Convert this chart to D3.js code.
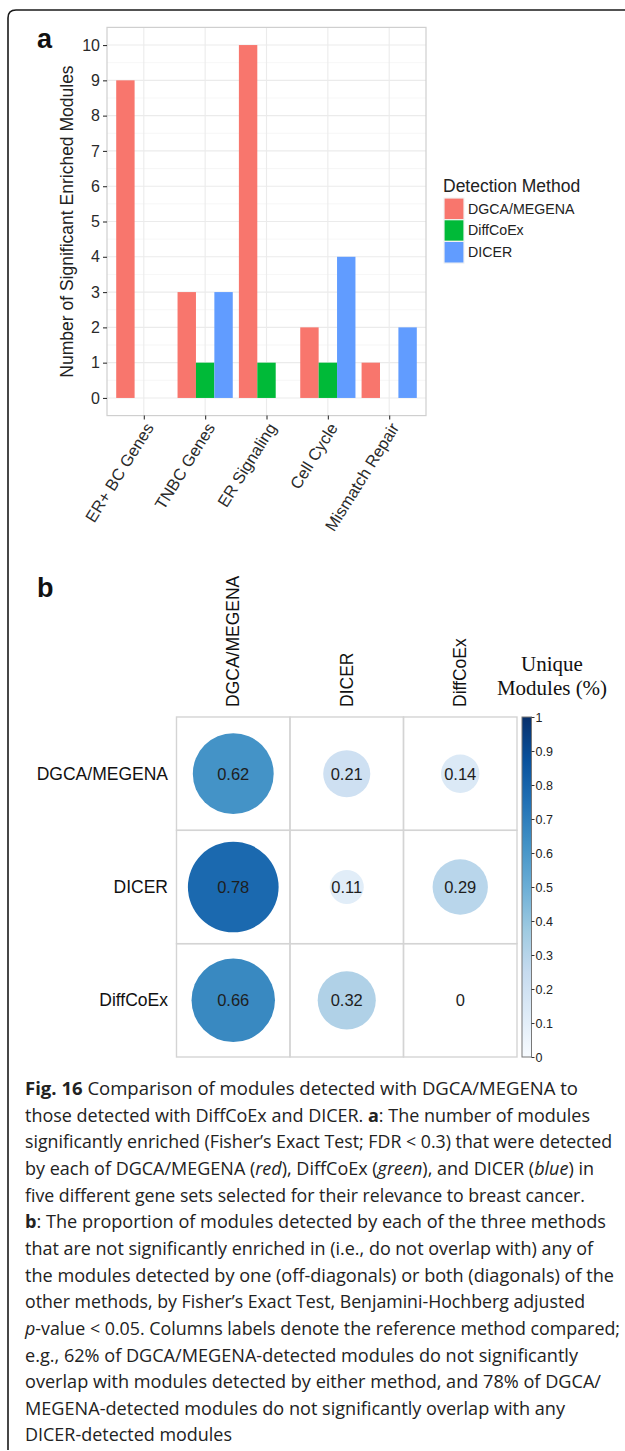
<!DOCTYPE html>
<html>
<head>
<meta charset="utf-8">
<script src="https://cdn.jsdelivr.net/npm/d3@7"></script>
<style>
  html, body { margin: 0; padding: 0; background: #fff; }
  svg { display: block; }
</style>
</head>
<body>
<svg id="fig" width="625" height="1451"></svg>
<script>
// ---- Panel a: enriched modules per gene set ----
const categories = ["ER+ BC Genes", "TNBC Genes", "ER Signaling", "Cell Cycle", "Mismatch Repair"];
const methods = ["DGCA/MEGENA", "DiffCoEx", "DICER"];
const dgcaCounts = [9, 3, 10, 2, 1];
const diffcoexCounts = [0, 1, 1, 1, 0];
const dicerCounts = [0, 3, 0, 4, 2];
const methodColors = ["#F8766D", "#00BA38", "#619CFF"];
const yTicks = [0, 1, 2, 3, 4, 5, 6, 7, 8, 9, 10];

// ---- Panel b: unique module proportions ----
const matrixRows = ["DGCA/MEGENA", "DICER", "DiffCoEx"];
const matrixCols = ["DGCA/MEGENA", "DICER", "DiffCoEx"];
const uniqueDgca = [0.62, 0.21, 0.14];
const uniqueDicer = [0.78, 0.11, 0.29];
const uniqueDiffcoex = [0.66, 0.32, 0];
const colorbarTicks = [0, 0.1, 0.2, 0.3, 0.4, 0.5, 0.6, 0.7, 0.8, 0.9, 1];
const bluesStops = ["#F7FBFF", "#DEEBF7", "#C6DBEF", "#9ECAE1", "#6BAED6", "#4292C6", "#2171B5", "#08519C", "#08306B"];

// ---- Caption ----
const captionLines = [
  [["b", "Fig. 16"], ["n", " Comparison of modules detected with DGCA/MEGENA to"]],
  [["n", "those detected with DiffCoEx and DICER. "], ["b", "a"], ["n", ": The number of modules"]],
  [["n", "significantly enriched (Fisher\u2019s Exact Test; FDR < 0.3) that were detected"]],
  [["n", "by each of DGCA/MEGENA ("], ["i", "red"], ["n", "), DiffCoEx ("], ["i", "green"], ["n", "), and DICER ("], ["i", "blue"], ["n", ") in"]],
  [["n", "five different gene sets selected for their relevance to breast cancer."]],
  [["b", "b"], ["n", ": The proportion of modules detected by each of the three methods"]],
  [["n", "that are not significantly enriched in (i.e., do not overlap with) any of"]],
  [["n", "the modules detected by one (off-diagonals) or both (diagonals) of the"]],
  [["n", "other methods, by Fisher\u2019s Exact Test, Benjamini-Hochberg adjusted"]],
  [["i", "p"], ["n", "-value < 0.05. Columns labels denote the reference method compared;"]],
  [["n", "e.g., 62% of DGCA/MEGENA-detected modules do not significantly"]],
  [["n", "overlap with modules detected by either method, and 78% of DGCA/"]],
  [["n", "MEGENA-detected modules do not significantly overlap with any"]],
  [["n", "DICER-detected modules"]]
];
const captionWidths = [553, 565, 587, 569, 560, 581, 568, 589, 560, 595, 553, 576, 540, 207];

const svg = d3.select("#fig");
const sans = "'Liberation Sans', Arial, Helvetica, sans-serif";

// Frame around the figure
svg.append("path")
  .attr("d", "M8,1450 L8,18 Q8,10 16,10 L625,10")
  .attr("fill", "none")
  .attr("stroke", "#1a1a1a")
  .attr("stroke-width", 1.6);

// ================= Panel a =================
const pa = svg.append("g");
const x = d3.scaleLinear().domain([0.4, 5.6]).range([107, 426]);
const y = d3.scaleLinear().domain([-0.5, 10.5]).range([415.6, 27.4]);
const step = x(2) - x(1);
const barW = step * 0.3;

pa.append("text").attr("x", 37).attr("y", 48)
  .attr("font-family", sans).attr("font-weight", "bold").attr("font-size", 27)
  .attr("fill", "#111").text("a");

// Grid: minor then major
const minorY = d3.range(0.5, 10.5, 1);
pa.selectAll(".minor").data(minorY).join("line")
  .attr("x1", x(0.4)).attr("x2", x(5.6))
  .attr("y1", d => y(d)).attr("y2", d => y(d))
  .attr("stroke", "#f4f4f4").attr("stroke-width", 0.8);
pa.selectAll(".majorY").data(yTicks).join("line")
  .attr("x1", x(0.4)).attr("x2", x(5.6))
  .attr("y1", d => y(d)).attr("y2", d => y(d))
  .attr("stroke", "#ebebeb").attr("stroke-width", 1.1);
pa.selectAll(".majorX").data(categories).join("line")
  .attr("x1", (d, i) => x(i + 1)).attr("x2", (d, i) => x(i + 1))
  .attr("y1", y(-0.5)).attr("y2", y(10.5))
  .attr("stroke", "#ebebeb").attr("stroke-width", 1.1);

// Bars
const series = [dgcaCounts, diffcoexCounts, dicerCounts];
const barData = [];
series.forEach((vals, m) => vals.forEach((v, i) => { if (v > 0) barData.push({ m, i, v }); }));
pa.selectAll(".bar").data(barData).join("rect")
  .attr("x", d => x(d.i + 1) - 1.5 * barW + d.m * barW)
  .attr("width", barW)
  .attr("y", d => y(d.v))
  .attr("height", d => y(0) - y(d.v))
  .attr("fill", d => methodColors[d.m]);

// Panel border
pa.append("rect")
  .attr("x", x(0.4)).attr("y", y(10.5))
  .attr("width", x(5.6) - x(0.4)).attr("height", y(-0.5) - y(10.5))
  .attr("fill", "none").attr("stroke", "#cfcfcf").attr("stroke-width", 1.2);

// Y axis
const yAxis = pa.append("g").attr("transform", `translate(${x(0.4)},0)`)
  .call(d3.axisLeft(y).tickValues(yTicks).tickSize(4).tickPadding(3).tickFormat(d3.format("d")));
yAxis.select(".domain").remove();
yAxis.selectAll("line").attr("stroke", "#333").attr("stroke-width", 1.1);
yAxis.selectAll("text").attr("font-family", sans).attr("font-size", 16).attr("fill", "#2a2a2a");

// X axis
const xAxis = pa.append("g").attr("transform", `translate(0,${y(-0.5)})`)
  .call(d3.axisBottom(x).tickValues(d3.range(1, 6)).tickSize(4).tickFormat(d => categories[d - 1]));
xAxis.select(".domain").remove();
xAxis.selectAll("line").attr("stroke", "#333").attr("stroke-width", 1.1);
xAxis.selectAll("text")
  .attr("font-family", sans).attr("font-size", 16.5).attr("fill", "#2a2a2a")
  .attr("text-anchor", "end")
  .attr("x", 0).attr("y", 0).attr("dy", 0)
  .attr("transform", "translate(10,12) rotate(-58)");

// Y axis title
pa.append("text")
  .attr("transform", `translate(73,${(y(-0.5) + y(10.5)) / 2}) rotate(-90)`)
  .attr("text-anchor", "middle")
  .attr("font-family", sans).attr("font-size", 17.5).attr("fill", "#222")
  .text("Number of Significant Enriched Modules");

// Legend
const lg = pa.append("g").attr("transform", "translate(443,0)");
lg.append("text").attr("x", 0).attr("y", 192)
  .attr("font-family", sans).attr("font-size", 17.5).attr("fill", "#222")
  .text("Detection Method");
lg.selectAll(".key").data(methods).join("rect")
  .attr("x", 1).attr("y", (d, i) => 198 + i * 21.7)
  .attr("width", 20).attr("height", 21.7)
  .attr("fill", (d, i) => methodColors[i])
  .attr("stroke", "#f2f2f2").attr("stroke-width", 1.2);
lg.selectAll(".lab").data(methods).join("text")
  .attr("x", 25).attr("y", (d, i) => 198 + i * 21.7 + 15.5)
  .attr("font-family", sans).attr("font-size", 14.2).attr("fill", "#222")
  .text(d => d);

// ================= Panel b =================
const pb = svg.append("g");
pb.append("text").attr("x", 37).attr("y", 597)
  .attr("font-family", sans).attr("font-weight", "bold").attr("font-size", 27)
  .attr("fill", "#111").text("b");

const gx = d3.scaleBand().domain(matrixCols).range([176.5, 517]);
const gy = d3.scaleBand().domain(matrixRows).range([717, 1057]);
const cell = gx.bandwidth();
const blues = d3.scaleLinear().domain(d3.range(bluesStops.length).map(i => i / (bluesStops.length - 1)))
  .range(bluesStops).interpolate(d3.interpolateRgb);
const rScale = d3.scaleSqrt().domain([0, 1]).range([0, cell / 2 * 0.905]);

const matrixValues = [uniqueDgca, uniqueDicer, uniqueDiffcoex];
const cells = [];
matrixRows.forEach((r, ri) => matrixCols.forEach((c, ci) => cells.push({ r, c, v: matrixValues[ri][ci] })));

// Grid cells
pb.selectAll(".cell").data(cells).join("rect")
  .attr("x", d => gx(d.c)).attr("y", d => gy(d.r))
  .attr("width", cell).attr("height", gy.bandwidth())
  .attr("fill", "none").attr("stroke", "#d4d4d4").attr("stroke-width", 1.4);

// Circles
pb.selectAll(".dot").data(cells.filter(d => d.v > 0)).join("circle")
  .attr("cx", d => gx(d.c) + cell / 2)
  .attr("cy", d => gy(d.r) + gy.bandwidth() / 2)
  .attr("r", d => rScale(d.v))
  .attr("fill", d => blues(d.v));

// Values
pb.selectAll(".val").data(cells).join("text")
  .attr("x", d => gx(d.c) + cell / 2)
  .attr("y", d => gy(d.r) + gy.bandwidth() / 2 + 6)
  .attr("text-anchor", "middle")
  .attr("font-family", sans).attr("font-size", 16.5).attr("fill", "#1e1e1e")
  .text(d => d.v === 0 ? "0" : d3.format(".2f")(d.v));

// Row labels
pb.selectAll(".rlab").data(matrixRows).join("text")
  .attr("x", 168).attr("y", d => gy(d) + gy.bandwidth() / 2 + 6)
  .attr("text-anchor", "end")
  .attr("font-family", sans).attr("font-size", 17.5).attr("fill", "#111")
  .text(d => d);

// Column labels
pb.selectAll(".clab").data(matrixCols).join("text")
  .attr("transform", d => `translate(${gx(d) + cell / 2 + 6},707) rotate(-90)`)
  .attr("text-anchor", "start")
  .attr("font-family", sans).attr("font-size", 17.5).attr("fill", "#111")
  .text(d => d);

// Colour bar
const cb = { x: 522, w: 9.5, top: 717, bottom: 1057 };
const defs = svg.append("defs");
const grad = defs.append("linearGradient").attr("id", "bluesGrad")
  .attr("x1", 0).attr("y1", 1).attr("x2", 0).attr("y2", 0);
bluesStops.forEach((c, i) => grad.append("stop")
  .attr("offset", i / (bluesStops.length - 1)).attr("stop-color", c));
pb.append("rect").attr("x", cb.x).attr("y", cb.top)
  .attr("width", cb.w).attr("height", cb.bottom - cb.top)
  .attr("fill", "url(#bluesGrad)").attr("stroke", "#777").attr("stroke-width", 1);
const cbScale = d3.scaleLinear().domain([0, 1]).range([cb.bottom, cb.top]);
const cbAxis = pb.append("g").attr("transform", `translate(${cb.x + cb.w},0)`)
  .call(d3.axisRight(cbScale).tickValues(colorbarTicks).tickSize(3).tickPadding(1)
    .tickFormat(d => d === 0 || d === 1 ? d3.format("d")(d) : d3.format(".1f")(d)));
cbAxis.select(".domain").remove();
cbAxis.selectAll("line").attr("stroke", "#333");
cbAxis.selectAll("text").attr("font-family", sans).attr("font-size", 12.5).attr("fill", "#222");

// Colour bar title
const serif = "'Liberation Serif', 'Times New Roman', serif";
pb.append("text").attr("x", 552).attr("y", 671).attr("text-anchor", "middle")
  .attr("font-family", serif).attr("font-size", 21).attr("fill", "#111").text("Unique");
pb.append("text").attr("x", 552).attr("y", 695).attr("text-anchor", "middle")
  .attr("font-family", serif).attr("font-size", 21).attr("fill", "#111").text("Modules (%)");

// ================= Caption =================
const cap = svg.append("g");
captionLines.forEach((segs, li) => {
  const t = cap.append("text")
    .attr("x", 25).attr("y", 1095 + li * 26.65)
    .attr("font-family", "'Open Sans', 'Noto Sans', sans-serif")
    .attr("font-size", 18).attr("fill", "#222")
    .attr("textLength", captionWidths[li])
    .attr("lengthAdjust", "spacingAndGlyphs");
  segs.forEach(([style, str]) => {
    const s = t.append("tspan").text(str);
    if (style === "b") s.attr("font-weight", "bold");
    if (style === "i") s.attr("font-style", "italic");
  });
});
</script>
</body>
</html>
